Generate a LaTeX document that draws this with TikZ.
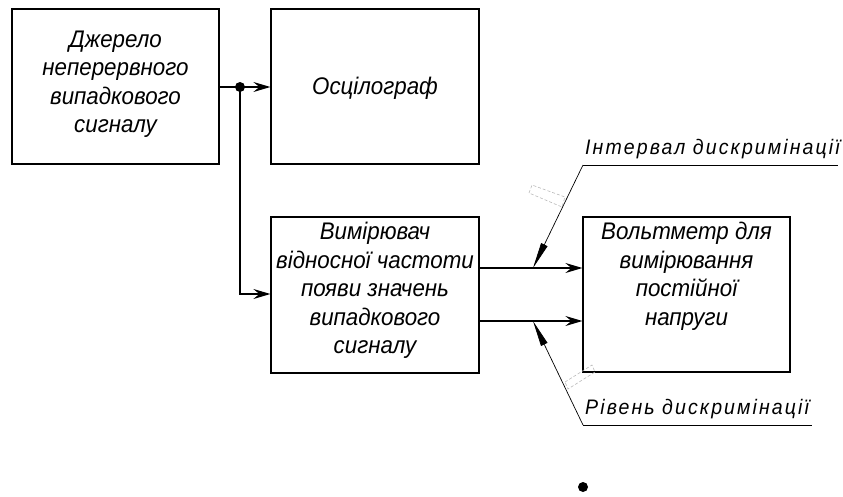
\documentclass[tikz,border=0pt]{standalone}
\usepackage{fontspec}
\setmainfont{Liberation Sans}[FakeStretch=0.93]
\usetikzlibrary{arrows.meta}
\begin{document}
\begin{tikzpicture}[x=1pt,y=-1pt,
  blockbox/.style={draw,line width=1.2pt,minimum width=#1,inner sep=0pt},
  boxtext/.style={align=center,font=\fontsize{24}{28.5}\selectfont\itshape,inner sep=0pt},
  flow/.style={line width=1.1pt,-{Stealth[length=17pt,width=10pt,inset=6pt]}},
  leader/.style={line width=0.7pt},
  leaderarrow/.style={line width=0.7pt,-{Triangle[length=26pt,width=7pt]}},
  lbl/.style={font=\fontsize{21}{24}\selectfont\itshape\addfontfeature{LetterSpace=10},inner sep=0pt,anchor=south west},
  ghost/.style={draw=gray!55,line width=0.6pt,dash pattern=on 3pt off 2pt}
]
\useasboundingbox (0,0) rectangle (843,496);
% blocks
\node[blockbox=207pt,minimum height=155pt] (src) at (115.5,86.5) {};
\node[boxtext] (srct) at (115.5,84) {Джерело\\неперервного\\випадкового\\сигналу};
\node[blockbox=208pt,minimum height=155pt] (osc) at (375,86.5) {};
\node[boxtext] (osct) at (375,88) {Осцілограф};
\node[blockbox=208pt,minimum height=156pt] (meas) at (375,295) {};
\node[boxtext,anchor=north] (meast) at (375,222) {Вимірювач\\відносної частоти\\появи значень\\випадкового\\сигналу};
\node[blockbox=207pt,minimum height=155pt] (volt) at (686.5,294.5) {};
\node[boxtext,anchor=north] (voltt) at (686.5,222) {Вольтметр для\\вимірювання\\постійної\\напруги};
% junction
\coordinate (j) at (240,87);
\draw[line width=1.1pt] (src.east |- j) -- (j);
\draw[flow] (j) -- (osc.west |- j);
\draw[flow] (j) |- (meas.west |- 0,294);
\fill (j) circle (5pt);
% outputs
\coordinate (a1) at (533,268);
\coordinate (a2) at (533,321);
\draw[flow] (meas.east |- a1) -- (volt.west |- a1);
\draw[flow] (meas.east |- a2) -- (volt.west |- a2);
% leaders
\coordinate (k1) at (583,165);
\coordinate (e1) at (838,165);
\coordinate (k2) at (583,425);
\coordinate (e2) at (812,425);
\draw[leaderarrow] (k1) -- (a1);
\draw[leader] (k1) -- (e1);
\draw[leaderarrow] (k2) -- (a2);
\draw[leader] (k2) -- (e2);
\node[lbl] (l1) at (585,159) {Інтервал дискримінації};
\node[lbl] (l2) at (585,419) {Рівень дискримінації};
% ghost frames
\draw[ghost] (529,193) -- (532,185) -- (565,197) -- (562,207) -- cycle;
\draw[ghost] (565,382) -- (592,365) -- (595,372) -- (568,389) -- cycle;
% stray dot
\fill (583,487) circle (5pt);
\end{tikzpicture}
\end{document}
